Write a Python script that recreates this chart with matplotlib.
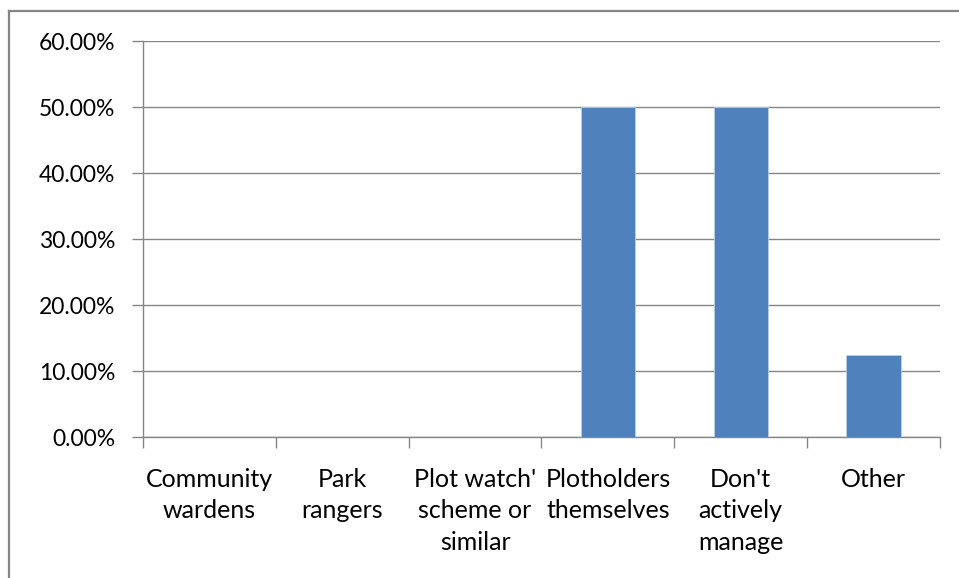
import matplotlib.pyplot as plt
import numpy as np
from matplotlib.lines import Line2D

# Data
categories = ['Community\nwardens', 'Park\nrangers', "Plot watch'\nscheme or\nsimilar",
              'Plotholders\nthemselves', "Don't\nactively\nmanage", 'Other']
shares = [0.0, 0.0, 0.0, 50.0, 50.0, 12.5]
y_ticks = [0, 10, 20, 30, 40, 50, 60]

grey = '#868686'
bar_blue = '#4F81BD'

fig = plt.figure(figsize=(9.59, 5.78), dpi=100)
ax = fig.add_axes([143/959, 1-437/578, 797/959, 396/578])

x = np.arange(len(categories))
ax.bar(x, shares, width=0.41, color=bar_blue, edgecolor='#B9CDE5', linewidth=0.6, zorder=3)

ax.set_xlim(-0.5, len(categories) - 0.5)
ax.set_ylim(0, 60)
ax.set_yticks(y_ticks)
ax.set_yticklabels(['%.2f%%' % v for v in y_ticks], fontsize=16.5, family='Lato')
ax.yaxis.grid(True, color=grey, linewidth=1.0, zorder=0)

# category labels centred, tick marks at the boundaries
ax.set_xticks(x)
ax.set_xticklabels(categories, fontsize=18, family='Lato', linespacing=1.45, va='top')
ax.tick_params(axis='x', length=0, pad=22)
ax.set_xticks(np.arange(len(categories) + 1) - 0.5, minor=True)
ax.tick_params(axis='x', which='minor', length=8, color=grey, width=1)
ax.tick_params(axis='y', length=8, color=grey, width=1, pad=12)

for side in ['top', 'right']:
    ax.spines[side].set_visible(False)
for side in ['left', 'bottom']:
    ax.spines[side].set_color(grey)
    ax.spines[side].set_linewidth(1.0)

# outer chart frame (partly cropped in the original)
fy = 1 - 11/578
fx = 8.5/959
fig.add_artist(Line2D([fx, fx], [0, fy], color=grey, linewidth=1.6))
fig.add_artist(Line2D([fx, 1], [fy, fy], color=grey, linewidth=1.6))

fig.savefig('out.png', dpi=100)
